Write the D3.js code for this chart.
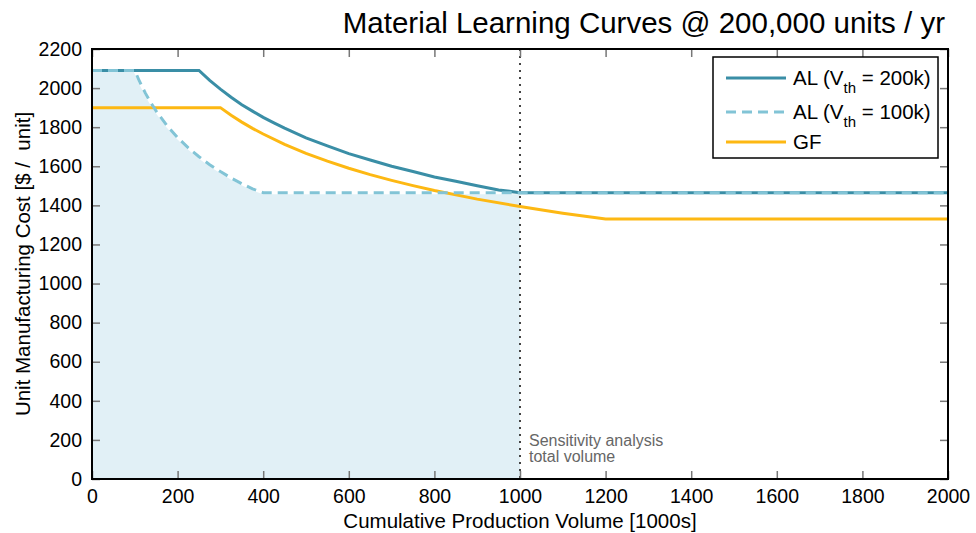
<!DOCTYPE html>
<html>
<head>
<meta charset="utf-8">
<script src="https://cdn.jsdelivr.net/npm/d3@7"></script>
<style>
  body { margin: 0; background: #fff; }
  svg text { font-family: "Liberation Sans", Arial, Helvetica, sans-serif; }
</style>
</head>
<body>
<svg id="chart" width="976" height="533"></svg>
<script>
// Cumulative production volume [1000s] and unit cost [$/unit] for each series
const al200X = [0, 250, 275, 300, 325, 350, 375, 400, 425, 450, 500, 550, 600, 650, 700, 750, 800, 850, 900, 950, 1000, 2000];
const al200Y = [2090, 2090, 2039, 1995, 1953, 1915, 1882, 1850, 1822, 1795, 1745, 1704, 1665, 1632, 1600, 1573, 1545, 1523, 1500, 1479, 1465, 1465];

const al100X = [0, 100, 110, 125, 135, 150, 175, 200, 225, 250, 275, 300, 325, 350, 375, 400, 1000, 2000];
const al100Y = [2090, 2090, 2039, 1973, 1934, 1882, 1808, 1747, 1694, 1649, 1608, 1573, 1540, 1511, 1484, 1465, 1465, 1465];

const gfX = [0, 300, 325, 350, 375, 400, 450, 500, 550, 600, 650, 700, 750, 800, 900, 1000, 1100, 1200, 2000];
const gfY = [1900, 1900, 1861, 1826, 1794, 1765, 1712, 1666, 1626, 1590, 1557, 1528, 1501, 1476, 1432, 1394, 1360, 1330, 1330];

const xTicks = [0, 200, 400, 600, 800, 1000, 1200, 1400, 1600, 1800, 2000];
const yTicks = [0, 200, 400, 600, 800, 1000, 1200, 1400, 1600, 1800, 2000, 2200];

const sensitivityVolume = 1000;

const colors = { al200: "#3a8ea6", al100: "#82c4d6", gf: "#fdb813", fill: "#e1f0f6" };

const svg = d3.select("#chart");
const m = { left: 92, right: 948, top: 49, bottom: 479 };

const x = d3.scaleLinear().domain([0, 2000]).range([m.left, m.right]);
const y = d3.scaleLinear().domain([0, 2200]).range([m.bottom, m.top]);

const toPts = (xs, ys) => xs.map((v, i) => [v, ys[i]]);
const al200 = toPts(al200X, al200Y);
const al100 = toPts(al100X, al100Y);
const gf = toPts(gfX, gfY);

const line = d3.line().x(d => x(d[0])).y(d => y(d[1]));

// Shaded region: volume up to the sensitivity-analysis total, under the AL (100k) curve
const shaded = al100.filter(d => d[0] <= sensitivityVolume);
const area = d3.area().x(d => x(d[0])).y0(y(0)).y1(d => y(d[1]));
svg.append("path").datum(shaded).attr("d", area).attr("fill", colors.fill);

// White backing so the dashed curve's gaps read clearly over the shading
svg.append("path").datum(shaded).attr("d", line)
  .attr("fill", "none").attr("stroke", "#fff").attr("stroke-width", 3);

// Series lines
svg.append("path").datum(gf).attr("d", line)
  .attr("fill", "none").attr("stroke", colors.gf).attr("stroke-width", 3);
svg.append("path").datum(al200).attr("d", line)
  .attr("fill", "none").attr("stroke", colors.al200).attr("stroke-width", 3);
svg.append("path").datum(al100).attr("d", line)
  .attr("fill", "none").attr("stroke", colors.al100).attr("stroke-width", 3)
  .attr("stroke-dasharray", "10,6");

// Sensitivity analysis marker
svg.append("line")
  .attr("x1", x(sensitivityVolume)).attr("x2", x(sensitivityVolume))
  .attr("y1", y(2200)).attr("y2", y(0))
  .attr("stroke", "#444").attr("stroke-width", 2).attr("stroke-dasharray", "2,5");
const note = svg.append("text")
  .attr("x", x(sensitivityVolume) + 9).attr("y", 446)
  .attr("font-size", 16).attr("fill", "#666");
note.append("tspan").attr("x", x(sensitivityVolume) + 9).text("Sensitivity analysis");
note.append("tspan").attr("x", x(sensitivityVolume) + 9).attr("dy", 16).text("total volume");

// Axes: inward ticks on all four sides
const tickLen = 8;
const fmt = d3.format("d");
const axisB = d3.axisBottom(x).tickValues(xTicks).tickFormat(fmt).tickSizeInner(-tickLen).tickSizeOuter(0).tickPadding(10);
const axisT = d3.axisTop(x).tickValues(xTicks).tickSizeInner(-tickLen).tickSizeOuter(0).tickFormat("");
const axisL = d3.axisLeft(y).tickValues(yTicks).tickFormat(fmt).tickSizeInner(-tickLen).tickSizeOuter(0).tickPadding(10);
const axisR = d3.axisRight(y).tickValues(yTicks).tickSizeInner(-tickLen).tickSizeOuter(0).tickFormat("");

function style(g) {
  g.select(".domain").remove();
  g.selectAll(".tick line").attr("stroke", "#777").attr("stroke-width", 1.5);
  g.selectAll(".tick text").attr("font-size", 19.5).attr("fill", "#000")
    .attr("font-family", "'Liberation Sans', Arial, sans-serif");
}
svg.append("g").attr("transform", `translate(0,${m.bottom})`).call(axisB).call(style);
svg.append("g").attr("transform", `translate(0,${m.top})`).call(axisT).call(style);
svg.append("g").attr("transform", `translate(${m.left},0)`).call(axisL).call(style);
svg.append("g").attr("transform", `translate(${m.right},0)`).call(axisR).call(style);

// Frame
svg.append("rect")
  .attr("x", m.left).attr("y", m.top)
  .attr("width", m.right - m.left).attr("height", m.bottom - m.top)
  .attr("fill", "none").attr("stroke", "#000").attr("stroke-width", 2);

// Titles
svg.append("text").attr("x", 945).attr("y", 33).attr("text-anchor", "end")
  .attr("font-size", 29.5).attr("fill", "#000")
  .text("Material Learning Curves @ 200,000 units / yr");
svg.append("text").attr("x", (m.left + m.right) / 2).attr("y", 528).attr("text-anchor", "middle")
  .attr("font-size", 20.5).attr("fill", "#000")
  .text("Cumulative Production Volume [1000s]");
svg.append("text")
  .attr("transform", `translate(30,${(m.top + m.bottom) / 2}) rotate(-90)`)
  .attr("text-anchor", "middle").attr("font-size", 20.5).attr("fill", "#000")
  .attr("xml:space", "preserve")
  .text("Unit Manufacturing Cost [$ /  unit]");

// Legend
const legend = svg.append("g");
legend.append("rect").attr("x", 713).attr("y", 57).attr("width", 225).attr("height", 101)
  .attr("fill", "#fff").attr("stroke", "#000").attr("stroke-width", 1.5);
const items = [
  { base: "AL (V", sub: "th", tail: " = 200k)", color: colors.al200, dash: null, ly: 78 },
  { base: "AL (V", sub: "th", tail: " = 100k)", color: colors.al100, dash: "10,6", ly: 112 },
  { base: "GF", sub: null, tail: null, color: colors.gf, dash: null, ly: 142 }
];
items.forEach(it => {
  legend.append("line").attr("x1", 726).attr("x2", 786).attr("y1", it.ly).attr("y2", it.ly)
    .attr("stroke", it.color).attr("stroke-width", 3).attr("stroke-dasharray", it.dash);
  const t = legend.append("text").attr("x", 793).attr("y", it.ly + 7)
    .attr("font-size", 20.5).attr("fill", "#000");
  t.append("tspan").text(it.base);
  if (it.sub) {
    t.append("tspan").attr("dy", 8).attr("font-size", 15).text(it.sub);
    t.append("tspan").attr("dy", -8).text(it.tail);
  }
});
</script>
</body>
</html>
